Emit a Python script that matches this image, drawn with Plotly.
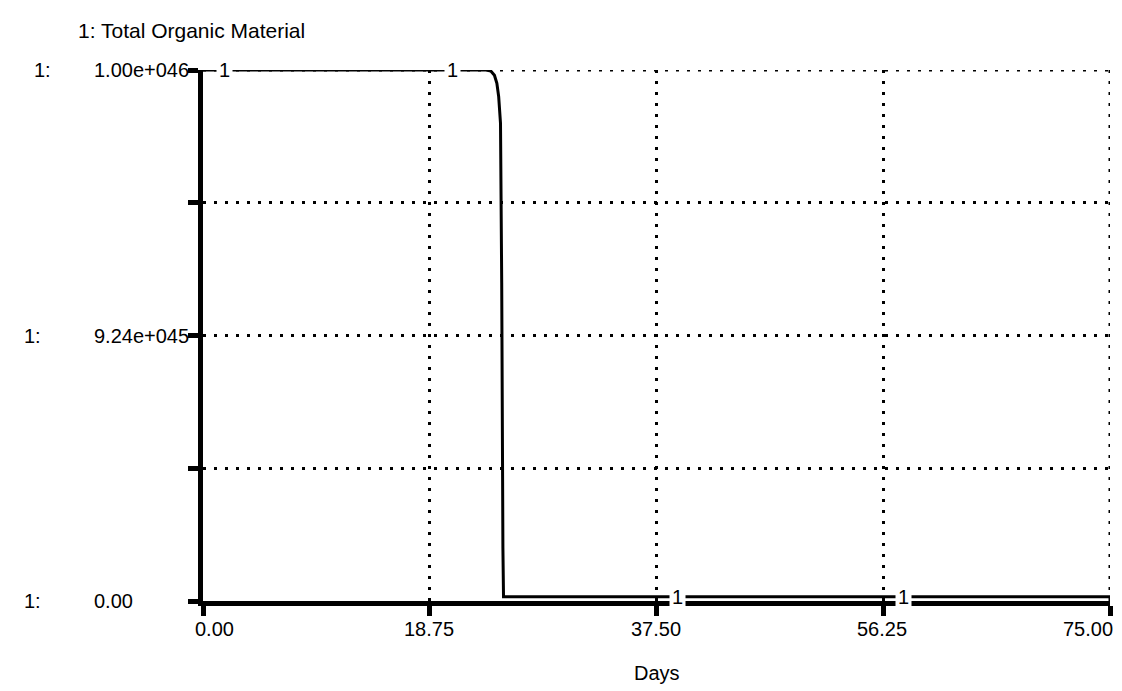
import numpy as np
import plotly.graph_objects as go

# ---- data ----
days = [0.0, 23.4, 23.8, 24.1, 24.3, 24.45, 24.6, 24.7, 24.8, 24.85, 75.0]
organic = [1.0e46, 1.0e46, 0.998e46, 0.99e46, 0.975e46, 0.95e46, 0.90e46,
           0.60e46, 0.10e46, 0.008e46, 0.008e46]

x_ticks = [0.0, 18.75, 37.5, 56.25, 75.0]
x_tick_text = ["0.00", "18.75", "37.50", "56.25", "75.00"]
y_ticks = [0.0, 2.5e45, 5.0e45, 7.5e45, 1.0e46]
y_tick_text = ["0.00", "", "9.24e+045", "", "1.00e+046"]
label_days = [1.8, 20.6, 39.2, 57.9]

series_name = "1: Total Organic Material"
x_title = "Days"

FONT = "Liberation Sans, Arial, sans-serif"
OFF = 8  # default page body margin
W, H = 1122 - OFF, 691 - OFF
ML, MR, MT, MB = 203 - OFF, 12, 70 - OFF, 90
PW = W - ML - MR
PH = H - MT - MB


def px_x(sx):
    """screen pixel x -> paper x"""
    return (sx - OFF - ML) / PW


def px_y(sy):
    """screen pixel y -> paper y"""
    return 1 - (sy - OFF - MT) / PH


fig = go.Figure()
fig.add_trace(go.Scatter(x=days, y=organic, mode="lines",
                         line=dict(color="black", width=3),
                         cliponaxis=False, showlegend=False,
                         hoverinfo="skip"))

ann = []
# series number labels on the line
for d in label_days:
    ann.append(dict(x=d, y=float(np.interp(d, days, organic)), xref="x", yref="y",
                    text="1", showarrow=False, bgcolor="white", borderpad=2,
                    font=dict(family=FONT, size=20, color="black"),
                    xanchor="center", yanchor="middle"))

# x tick labels
for v, t in zip(x_ticks, x_tick_text):
    if v == x_ticks[0]:
        xa, xs = "left", -10
    elif v == x_ticks[-1]:
        xa, xs = "right", 5
    else:
        xa, xs = "center", -1
    ann.append(dict(x=v, y=0, xref="x", yref="paper", text=t, showarrow=False,
                    xanchor=xa, yanchor="top", xshift=xs, yshift=-15,
                    font=dict(family=FONT, size=20, color="black")))

# y tick labels and series prefixes
for v, t in zip(y_ticks, y_tick_text):
    if not t:
        continue
    ann.append(dict(x=px_x(92), y=v, xref="paper", yref="y", text=t,
                    showarrow=False, xanchor="left", yanchor="middle",
                    font=dict(family=FONT, size=20, color="black")))
    sx = 32 if v == y_ticks[-1] else 22
    ann.append(dict(x=px_x(sx), y=v, xref="paper", yref="y", text="1:",
                    showarrow=False, xanchor="left", yanchor="middle",
                    font=dict(family=FONT, size=20, color="black")))

# title and axis title
ann.append(dict(x=px_x(76), y=px_y(30), xref="paper", yref="paper",
                text=series_name, showarrow=False, xanchor="left", yanchor="middle",
                font=dict(family=FONT, size=21, color="black")))
ann.append(dict(x=px_x(657), y=px_y(673), xref="paper", yref="paper",
                text=x_title, showarrow=False, xanchor="center", yanchor="middle",
                font=dict(family=FONT, size=20, color="black")))

# dotted grid lines on the outer edges (plotly omits grid at range ends)
shapes = [
    dict(type="line", xref="x", yref="y", x0=x_ticks[0], x1=x_ticks[-1],
         y0=y_ticks[-1], y1=y_ticks[-1], layer="below",
         line=dict(color="black", width=3, dash="3px,8px")),
    dict(type="line", xref="x", yref="y", x0=x_ticks[-1], x1=x_ticks[-1],
         y0=y_ticks[0], y1=y_ticks[-1], layer="below",
         line=dict(color="black", width=3, dash="3px,8px")),
]

fig.update_layout(
    width=W, height=H,
    margin=dict(l=ML, r=MR, t=MT, b=MB, pad=0),
    paper_bgcolor="white", plot_bgcolor="white",
    font=dict(family=FONT, size=20, color="black"),
    annotations=ann, shapes=shapes,
)
fig.update_xaxes(range=[0, 75], tickvals=x_ticks, showticklabels=False,
                 ticks="outside", ticklen=10, tickwidth=5, tickcolor="black",
                 showline=True, linewidth=5, linecolor="black",
                 showgrid=True, gridcolor="black", gridwidth=3, griddash="3px,8px",
                 zeroline=False, fixedrange=True)
fig.update_yaxes(range=[0, 1.0e46], tickvals=y_ticks, showticklabels=False,
                 ticks="outside", ticklen=10, tickwidth=5, tickcolor="black",
                 showline=True, linewidth=5, linecolor="black",
                 showgrid=True, gridcolor="black", gridwidth=3, griddash="3px,8px",
                 zeroline=False, fixedrange=True)

fig.write_html("out.html")
